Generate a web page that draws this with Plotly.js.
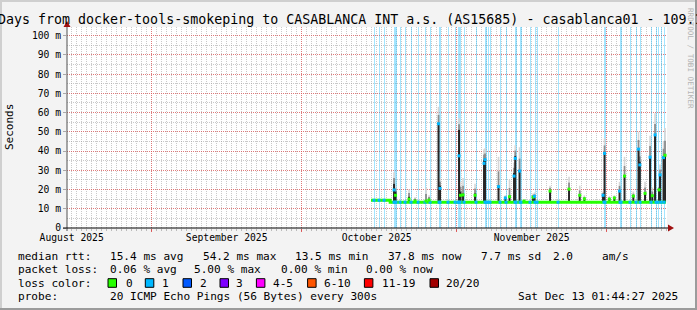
<!DOCTYPE html>
<html><head><meta charset="utf-8">
<script src="https://cdn.plot.ly/plotly-3.0.1.min.js"></script>
<style>html,body{margin:0;padding:0;background:#f3f3f3}#chart{width:697px;height:310px}</style>
</head><body><div id="chart"></div>
<script>
// ---------------- data ----------------
const titleText = "120 Days from docker-tools-smokeping to CASABLANCA INT a.s. (AS15685) - casablanca01 - 109.1";
const rangeStart = "2025-08-15 01:44:27";
const rangeEnd = "2025-12-13 01:44:27";
const monthStarts = ["2025-09-01", "2025-10-01", "2025-11-01", "2025-12-01"];
const monthLabelDates = ["2025-08-16", "2025-09-16", "2025-10-16", "2025-11-16"];
const monthLabels = ["August 2025", "September 2025", "October 2025", "November 2025"];
const yTickMs = [0, 10, 20, 30, 40, 50, 60, 70, 80, 90, 100];
const yTickLabels = ["0", "10 m", "20 m", "30 m", "40 m", "50 m", "60 m", "70 m", "80 m", "90 m", "100 m"];

// median rtt baseline (ms)
const medianTimes = ["2025-10-14 21:00", "2025-10-18 17:00", "2025-12-12 20:00"];
const medianMs = [14.4, 13.4, 13.4];

// steps with packet loss (1 of 20)
const lossTimes = [
  "2025-10-15 11:30", "2025-10-16 11:30", "2025-10-17 11:30", "2025-10-19 11:30", "2025-10-19 16:20",
  "2025-10-19 21:05", "2025-10-20 16:20", "2025-10-21 16:20", "2025-10-22 21:05", "2025-10-24 06:45",
  "2025-10-25 16:20", "2025-10-26 16:20", "2025-10-28 11:30", "2025-10-28 16:20", "2025-10-30 06:45",
  "2025-10-31 16:20", "2025-11-01 06:45", "2025-11-01 11:30", "2025-11-01 16:20", "2025-11-02 11:30",
  "2025-11-04 21:05", "2025-11-06 16:20", "2025-11-06 21:05", "2025-11-07 06:45", "2025-11-07 16:20",
  "2025-11-09 16:20", "2025-11-10 21:05", "2025-11-12 16:20", "2025-11-12 21:05", "2025-11-13 16:20",
  "2025-11-13 21:05", "2025-11-15 16:20", "2025-11-16 16:20", "2025-11-17 01:55", "2025-11-21 06:45",
  "2025-11-30 11:30", "2025-11-30 16:20", "2025-12-03 16:20", "2025-12-03 21:05", "2025-12-05 16:20",
  "2025-12-06 21:05", "2025-12-07 16:20", "2025-12-09 21:05", "2025-12-10 21:05", "2025-12-11 06:45",
  "2025-12-11 21:05", "2025-12-12 11:30"
];
const lossCount = lossTimes.map(() => 1);

// smoke spikes: time, median (ms), lost pings, smoke bottom, dense smoke top, smoke max
const spikeTimes = [
  "2025-10-19 11:30", "2025-10-19 18:45", "2025-10-22 11:30", "2025-10-23 16:20", "2025-10-25 21:05",
  "2025-10-26 11:30", "2025-10-28 09:05", "2025-10-28 16:20", "2025-11-01 11:30", "2025-11-01 18:45",
  "2025-11-02 06:45", "2025-11-04 16:20", "2025-11-06 11:30", "2025-11-06 16:20", "2025-11-09 09:05",
  "2025-11-10 17:45", "2025-11-11 13:55", "2025-11-12 11:30", "2025-11-12 17:15", "2025-11-13 13:55",
  "2025-11-14 11:30", "2025-11-16 06:45", "2025-11-16 13:55", "2025-11-19 16:20", "2025-11-23 11:30",
  "2025-11-25 14:55", "2025-11-26 13:00", "2025-11-30 06:45", "2025-11-30 13:55", "2025-12-01 13:00",
  "2025-12-02 13:00", "2025-12-03 13:55", "2025-12-04 13:55", "2025-12-06 08:10", "2025-12-07 09:05",
  "2025-12-07 15:20", "2025-12-08 16:20", "2025-12-09 16:20", "2025-12-10 03:20", "2025-12-10 16:20",
  "2025-12-11 11:30", "2025-12-11 16:20", "2025-12-12 09:05", "2025-12-12 16:20"
];
const spikeMedianMs = [19.8, 17.0, 15.0, 14.0, 14.0, 14.5, 54.2, 20.6, 37.5, 17.0,
  17.2, 17.0, 33.6, 35.5, 21.5, 15.6, 16.3, 27.0, 36.2, 29.6,
  14.0, 16.0, 16.5, 19.2, 20.2, 17.0, 15.2, 17.0, 38.8, 15.0,
  15.6, 19.2, 27.0, 16.6, 41.0, 32.8, 18.0, 36.8, 16.8, 48.4,
  19.8, 27.6, 36.6, 37.8];
const spikeLost = [1, 0, 0, 0, 0, 0, 1, 1, 1, 0,
  0, 0, 1, 1, 1, 1, 0, 1, 1, 1,
  0, 0, 1, 0, 0, 0, 0, 1, 1, 0,
  0, 1, 0, 0, 1, 1, 0, 1, 0, 1,
  0, 1, 1, 0];
const spikeLowMs = [13.2, 13.2, 13.2, 13.2, 13.2, 13.2, 13.2, 13.2, 13.2, 13.2,
  13.2, 13.2, 13.2, 13.2, 13.2, 13.2, 13.2, 13.2, 13.2, 13.2,
  13.2, 13.2, 13.2, 13.2, 13.2, 13.2, 13.2, 13.2, 13.2, 13.2,
  13.2, 13.2, 13.2, 13.2, 13.2, 13.2, 13.2, 13.2, 13.2, 13.2,
  13.2, 13.2, 13.2, 13.2];
const spikeTopMs = [23.0, 19.0, 16.3, 14.8, 14.5, 15.2, 54.6, 22.0, 51.0, 19.0,
  18.0, 18.0, 35.4, 36.0, 22.0, 15.8, 16.6, 28.6, 37.5, 30.2,
  14.2, 16.3, 16.6, 19.8, 20.6, 17.2, 15.4, 17.5, 39.2, 15.4,
  15.8, 19.8, 27.5, 16.8, 41.5, 34.5, 18.2, 37.2, 17.0, 48.6,
  20.5, 27.8, 37.5, 38.6];
const spikeMaxMs = [29.0, 22.0, 20.0, 16.0, 20.8, 17.0, 63.0, 26.0, 57.0, 24.0,
  26.0, 23.0, 41.0, 41.4, 37.0, 17.0, 25.0, 34.0, 43.0, 42.0,
  15.0, 18.0, 18.5, 22.0, 26.7, 22.0, 17.0, 19.0, 46.6, 16.5,
  17.0, 24.0, 37.0, 19.0, 50.0, 40.0, 24.0, 48.0, 21.0, 59.6,
  22.0, 33.0, 45.0, 52.0];

// legend
const lossColors = ["#26ff00", "#00b8ff", "#0059ff", "#7e00ff", "#ff00ff", "#ff5500", "#ff0000", "#a10000"];
const lossColorLabels = ["0", "1", "2", "3", "4-5", "6-10", "11-19", "20/20"];
const legendLines = [
  [["median rtt:", 16.4], ["15.4 ms avg", 107.6], ["54.2 ms max", 201], ["13.5 ms min", 293.3], ["37.8 ms now", 385.8], ["7.7 ms sd", 478.7], ["2.0", 551], ["am/s", 600]],
  [["packet loss:", 16.4], ["0.06 % avg", 107.6], ["5.00 % max", 192], ["0.00 % min", 279], ["0.00 % now", 364.4]],
  [["loss color:", 16.4]],
  [["probe:", 16.4], ["20 ICMP Echo Pings (56 Bytes) every 300s", 107.6]]
];
const stampText = "Sat Dec 13 01:44:27 2025";

// ---------------- layout helpers ----------------
const W = 697, H = 310, L = 67, R = 667, T = 27, B = 228;
const px = x => (x - L) / (R - L);
const py = y => (B - y) / (B - T);
const FONT = "DejaVu Sans Mono";
const MS = v => v / 1000;
const yMax = 0.1045;
const stepMs = 4.8 * 3600 * 1000;

// smoke segments
const darkX = [], darkY = [], midX = [], midY = [], lightX = [], lightY = [];
spikeTimes.forEach((t, i) => {
  const lo = MS(spikeLowMs[i]), top = MS(spikeTopMs[i]), mx = MS(spikeMaxMs[i]);
  const mid = (top + mx) / 2;
  darkX.push(t, t, null); darkY.push(lo, top, null);
  midX.push(t, t, null); midY.push(top, mid, null);
  lightX.push(t, t, null); lightY.push(mid, mx, null);
});
const stepTime = new Date(medianTimes[1].replace(" ", "T")).getTime();
const lossBaseline = lossTimes.map(t => MS(new Date(t.replace(" ", "T")).getTime() < stepTime ? medianMs[0] : medianMs[1]));

const traces = [
  { type: "bar", x: lossTimes, y: lossCount, xaxis: "x", yaxis: "y", width: stepMs,
    marker: { color: "rgba(0,184,255,0.36)", line: { width: 0 } }, hoverinfo: "skip" },
  { type: "scatter", mode: "lines", x: lightX, y: lightY, xaxis: "x2", yaxis: "y2",
    line: { color: "#d6d6d6", width: 1.6 }, connectgaps: false, hoverinfo: "skip" },
  { type: "scatter", mode: "lines", x: midX, y: midY, xaxis: "x2", yaxis: "y2",
    line: { color: "#8c8c8c", width: 1.8 }, connectgaps: false, hoverinfo: "skip" },
  { type: "scatter", mode: "lines", x: darkX, y: darkY, xaxis: "x2", yaxis: "y2",
    line: { color: "#262626", width: 2 }, connectgaps: false, hoverinfo: "skip" },
  { type: "scatter", mode: "lines", x: medianTimes, y: medianMs.map(MS), xaxis: "x2", yaxis: "y2",
    line: { color: lossColors[0], width: 3, shape: "hv" }, hoverinfo: "skip" },
  { type: "scatter", mode: "markers", x: lossTimes, y: lossBaseline, xaxis: "x2", yaxis: "y2",
    marker: { symbol: "square", size: 3, color: lossColors[1], line: { width: 0 } }, hoverinfo: "skip" },
  { type: "scatter", mode: "markers", x: spikeTimes, y: spikeMedianMs.map(MS), xaxis: "x2", yaxis: "y2",
    marker: { symbol: "square", size: 3, color: spikeLost.map(n => lossColors[n]), line: { width: 0 } }, hoverinfo: "skip" }
];

const annotations = [];
annotations.push({ xref: "paper", yref: "paper", x: px(-35.8), y: py(19.5), xanchor: "left", yanchor: "middle",
  text: titleText, showarrow: false, font: { family: FONT, size: 13.3, color: "#000" } });
annotations.push({ xref: "paper", yref: "paper", x: px(10), y: py(127), xanchor: "center", yanchor: "middle",
  text: "Seconds", textangle: -90, showarrow: false, font: { family: FONT, size: 11, color: "#000" } });
annotations.push({ xref: "paper", yref: "paper", x: px(690), y: py(58), xanchor: "center", yanchor: "middle",
  text: "RRDTOOL / TOBI OETIKER", textangle: 90, showarrow: false, font: { family: FONT, size: 7.6, color: "#b4b4b4" } });
const lineY = [256.5, 269.8, 283, 296.3];
legendLines.forEach((segs, r) => segs.forEach(([txt, x]) => annotations.push({
  xref: "paper", yref: "paper", x: px(x), y: py(lineY[r]), xanchor: "left", yanchor: "middle",
  text: txt, showarrow: false, font: { family: FONT, size: 11.1, color: "#000" } })));
const boxX = [108, 145.3, 183, 220, 256.4, 307.6, 364.4, 430];
const boxLabelX = [123.6, 160, 197.8, 234, 271, 322, 380, 444.4];
lossColorLabels.forEach((lab, i) => annotations.push({
  xref: "paper", yref: "paper", x: px(boxLabelX[i]), y: py(lineY[2]), xanchor: "left", yanchor: "middle",
  text: lab, showarrow: false, font: { family: FONT, size: 11.1, color: "#000" } }));
annotations.push({ xref: "paper", yref: "paper", x: px(680), y: py(lineY[3]), xanchor: "right", yanchor: "middle",
  text: stampText, showarrow: false, font: { family: FONT, size: 11.1, color: "#000" } });

const shapes = [];
// frame
shapes.push({ type: "rect", xref: "paper", yref: "paper", x0: px(0), x1: px(697), y0: py(0), y1: py(2), fillcolor: "#cfcfcf", line: { width: 0 } });
shapes.push({ type: "rect", xref: "paper", yref: "paper", x0: px(0), x1: px(2), y0: py(0), y1: py(310), fillcolor: "#cfcfcf", line: { width: 0 } });
shapes.push({ type: "rect", xref: "paper", yref: "paper", x0: px(695), x1: px(697), y0: py(0), y1: py(310), fillcolor: "#9b9b9b", line: { width: 0 } });
shapes.push({ type: "rect", xref: "paper", yref: "paper", x0: px(0), x1: px(697), y0: py(308), y1: py(310), fillcolor: "#9b9b9b", line: { width: 0 } });
// axes
shapes.push({ type: "line", xref: "paper", yref: "paper", x0: px(67), x1: px(67), y0: py(231), y1: py(24), line: { color: "#505050", width: 1 } });
shapes.push({ type: "line", xref: "paper", yref: "paper", x0: px(63), x1: px(669), y0: py(228), y1: py(228), line: { color: "#000", width: 1 } });
shapes.push({ type: "path", xref: "paper", yref: "paper",
  path: `M ${px(668)} ${py(224.5)} L ${px(674)} ${py(228)} L ${px(668)} ${py(231.5)} Z`, fillcolor: "#a01010", line: { width: 0 } });
shapes.push({ type: "path", xref: "paper", yref: "paper",
  path: `M ${px(63.5)} ${py(27)} L ${px(67)} ${py(21)} L ${px(70.5)} ${py(27)} Z`, fillcolor: "#a01010", line: { width: 0 } });
// legend swatches
boxX.forEach((x, i) => shapes.push({ type: "rect", xref: "paper", yref: "paper", x0: px(x), x1: px(x + 8.5),
  y0: py(lineY[2] - 4.3), y1: py(lineY[2] + 4.3), fillcolor: lossColors[i], line: { color: "#000", width: 1 } }));

const layout = {
  width: W, height: H,
  margin: { l: L, r: W - R, t: T, b: H - B, pad: 0 },
  paper_bgcolor: "#f3f3f3", plot_bgcolor: "#ffffff",
  showlegend: false, bargap: 0,
  xaxis: { type: "date", range: [rangeStart, rangeEnd], tickmode: "array", tickvals: monthStarts,
    showticklabels: false, showgrid: true, gridcolor: "rgba(235,70,70,0.6)", griddash: "1px,1px", gridwidth: 1,
    ticks: "outside", ticklen: 3, tickcolor: "rgba(220,60,60,0.8)", zeroline: false, showline: false,
    minor: { dtick: 86400000, tick0: "2025-08-01", showgrid: true, gridcolor: "rgba(150,150,150,0.5)", griddash: "1px,1px",
      ticks: "outside", ticklen: 2, tickcolor: "rgba(150,150,150,0.6)" } },
  xaxis2: { type: "date", overlaying: "x", range: [rangeStart, rangeEnd], tickmode: "array", tickvals: monthLabelDates,
    ticktext: monthLabels, showgrid: false, ticks: "", zeroline: false, showline: false, side: "bottom",
    ticklabelstandoff: 2, tickfont: { family: FONT, size: 9.7, color: "#000" } },
  yaxis: { range: [0, 1], visible: false, showgrid: false, zeroline: false, fixedrange: true },
  yaxis2: { overlaying: "y", side: "left", range: [0, yMax], tickmode: "array", tickvals: yTickMs.map(MS), ticktext: yTickLabels,
    showgrid: true, gridcolor: "rgba(235,70,70,0.6)", griddash: "1px,1px", gridwidth: 1, zeroline: false, showline: false,
    ticks: "outside", ticklen: 3, tickcolor: "rgba(150,150,150,0.8)",
    tickfont: { family: FONT, size: 9.7, color: "#000" },
    minor: { dtick: 0.005, tick0: 0, showgrid: true, gridcolor: "rgba(150,150,150,0.5)", griddash: "1px,1px" } },
  annotations, shapes
};

Plotly.newPlot("chart", traces, layout, { staticPlot: true, displayModeBar: false });
</script>
</body></html>
